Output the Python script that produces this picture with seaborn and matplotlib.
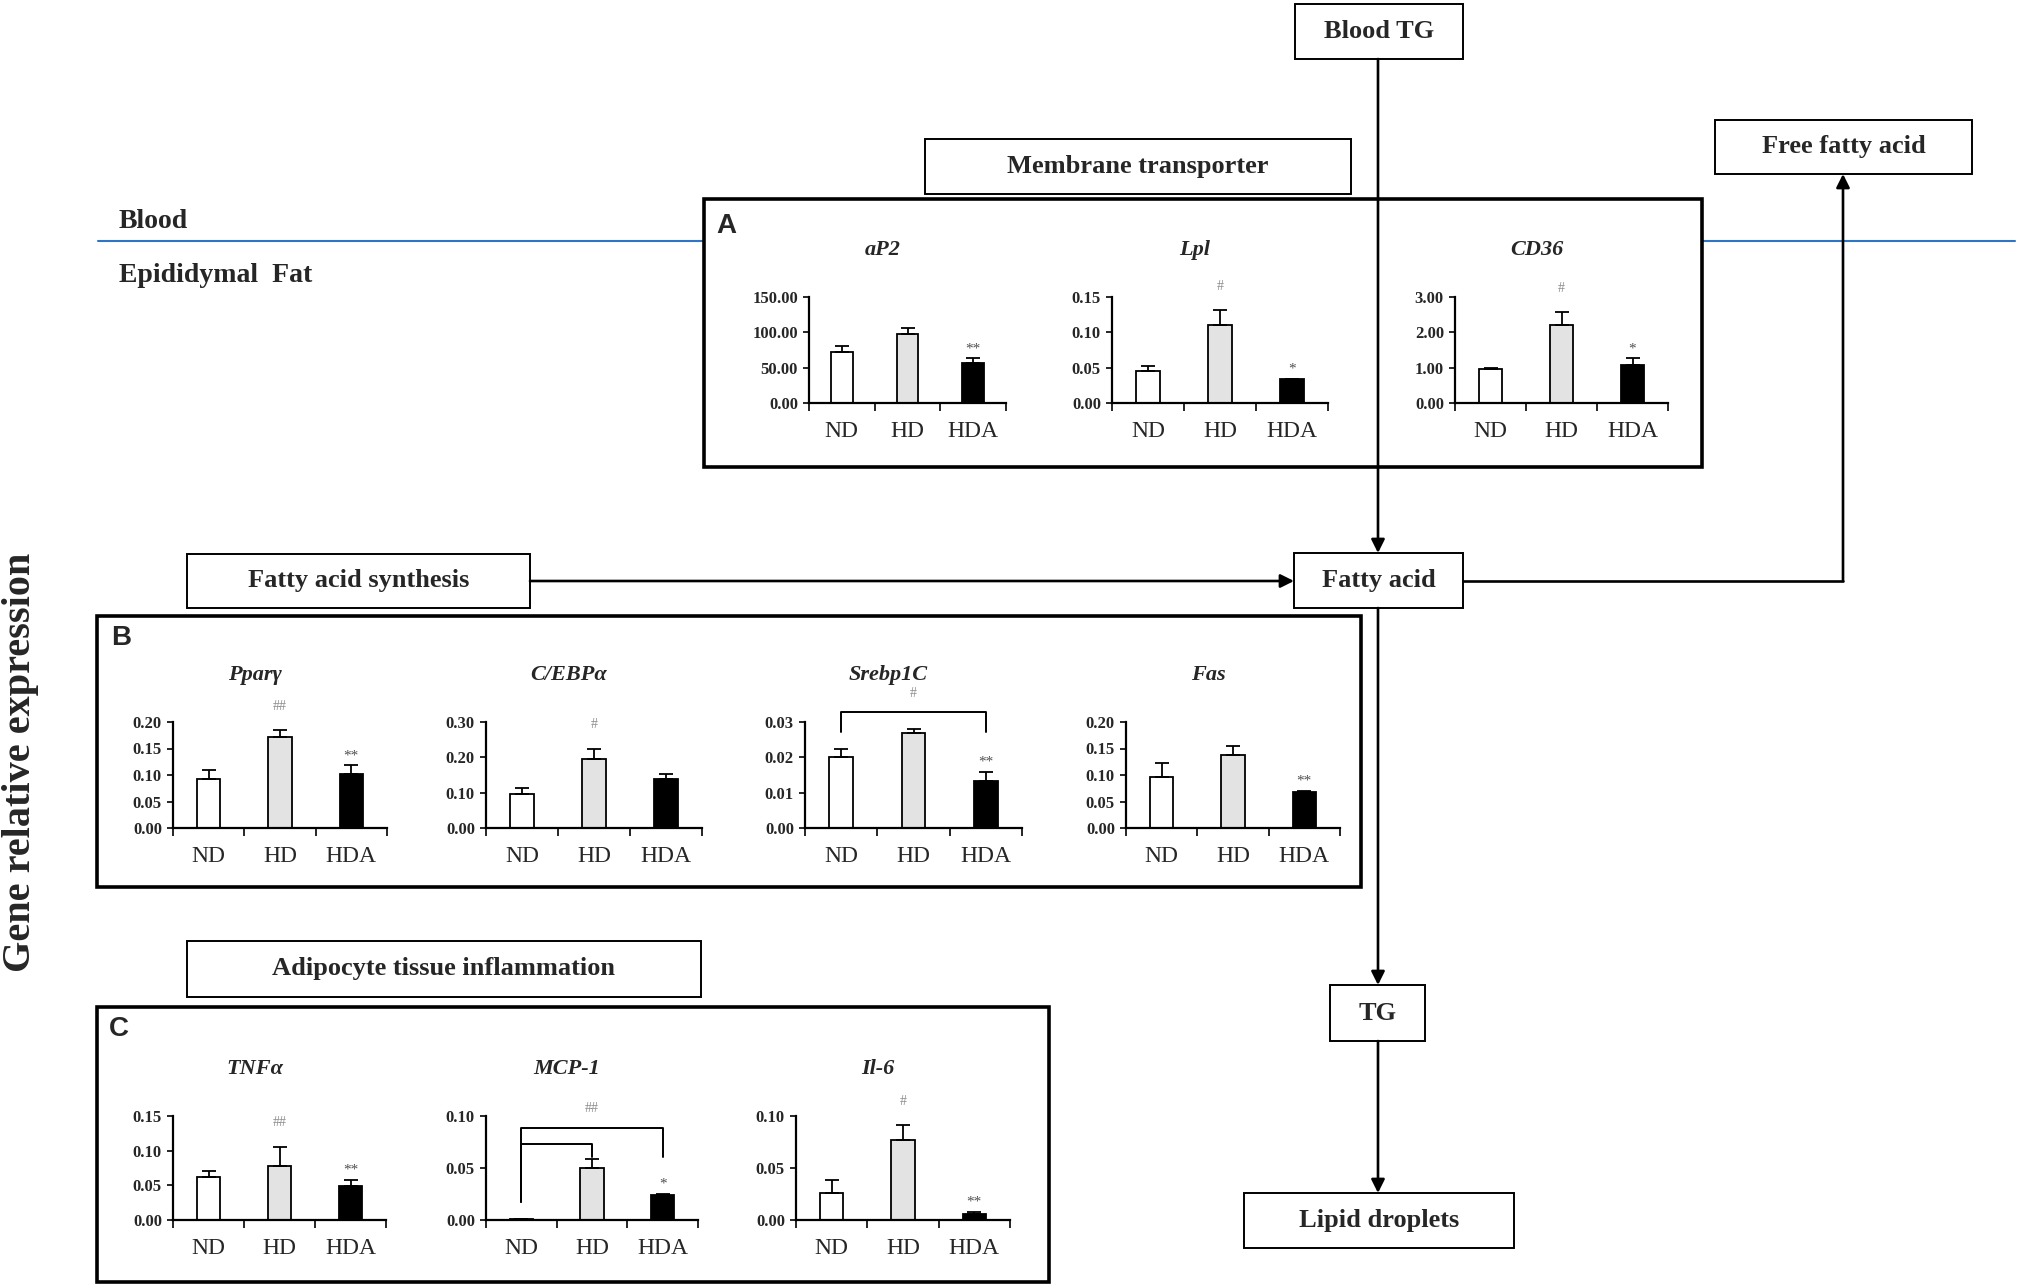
import numpy as np
import pandas as pd
import matplotlib
matplotlib.use('Agg')
import matplotlib.pyplot as plt
import seaborn as sns
from matplotlib.patches import Rectangle
from matplotlib.ticker import FormatStrFormatter

W, H = 2025, 1287

groups = ['ND', 'HD', 'HDA']
bar_colors = ['white', '#e3e3e3', 'black']

# values: mean and upper error bar
ap2_mean = [72, 97, 57]
ap2_err = [8, 9, 6]
ap2_ticks = [0, 50, 100, 150]
ap2_sig = ['', '', '**']

lpl_mean = [0.045, 0.110, 0.034]
lpl_err = [0.008, 0.022, 0.0]
lpl_ticks = [0, 0.05, 0.10, 0.15]
lpl_sig = ['', '#', '*']

cd36_mean = [0.97, 2.20, 1.08]
cd36_err = [0.02, 0.38, 0.18]
cd36_ticks = [0, 1, 2, 3]
cd36_sig = ['', '#', '*']

ppar_mean = [0.092, 0.172, 0.101]
ppar_err = [0.018, 0.012, 0.017]
ppar_ticks = [0, 0.05, 0.10, 0.15, 0.20]
ppar_sig = ['', '##', '**']

cebp_mean = [0.095, 0.195, 0.140]
cebp_err = [0.018, 0.030, 0.012]
cebp_ticks = [0, 0.10, 0.20, 0.30]
cebp_sig = ['', '#', '']

srebp_mean = [0.0200, 0.0268, 0.0133]
srebp_err = [0.0025, 0.0012, 0.0025]
srebp_ticks = [0, 0.01, 0.02, 0.03]
srebp_sig = ['', '', '**']

fas_mean = [0.097, 0.138, 0.067]
fas_err = [0.025, 0.016, 0.003]
fas_ticks = [0, 0.05, 0.10, 0.15, 0.20]
fas_sig = ['', '', '**']

tnf_mean = [0.062, 0.078, 0.049]
tnf_err = [0.009, 0.028, 0.009]
tnf_ticks = [0, 0.05, 0.10, 0.15]
tnf_sig = ['', '##', '**']

mcp_mean = [0.001, 0.050, 0.024]
mcp_err = [0.0, 0.009, 0.001]
mcp_ticks = [0, 0.05, 0.10]
mcp_sig = ['', '', '*']

il6_mean = [0.026, 0.077, 0.006]
il6_err = [0.012, 0.014, 0.002]
il6_ticks = [0, 0.05, 0.10]
il6_sig = ['', '#', '**']

sns.set_style('ticks')
plt.rcParams['font.family'] = ['Liberation Serif', 'DejaVu Serif']

fig = plt.figure(figsize=(W / 100, H / 100), dpi=100)
bg = fig.add_axes([0, 0, 1, 1])
bg.set_xlim(0, W)
bg.set_ylim(H, 0)
bg.axis('off')


def box(x0, y0, x1, y1, lw=1.4):
    bg.add_patch(Rectangle((x0, y0), x1 - x0, y1 - y0, fill=False, lw=lw, ec='black', zorder=3))


def label_box(x0, y0, x1, y1, text):
    box(x0, y0, x1, y1)
    bg.text((x0 + x1) / 2, (y0 + y1) / 2, text, ha='center', va='center',
            fontsize=19, fontweight='bold')


def arrow(x0, y0, x1, y1):
    bg.annotate('', xy=(x1, y1), xytext=(x0, y0),
                arrowprops=dict(arrowstyle='-|>', color='black', lw=1.9,
                                mutation_scale=20, shrinkA=0, shrinkB=0))


def draw_chart(x0, y0, x1, y1, title, mean, err, ticks, sig, brackets=(), bracket_label=''):
    ax = fig.add_axes([x0 / W, 1 - y1 / H, (x1 - x0) / W, (y1 - y0) / H])
    ax.patch.set_alpha(0)
    df = pd.DataFrame({'group': groups, 'value': mean})
    sns.barplot(data=df, x='group', y='value', hue='group', palette=bar_colors,
                edgecolor='black', linewidth=1.3, width=0.33, legend=False, ax=ax)
    ax.errorbar(range(3), mean, yerr=[np.zeros(3), err], fmt='none', ecolor='black',
                elinewidth=1.3, capsize=5, capthick=1.3, clip_on=False)
    top = ticks[-1]
    ax.set_xlim(-0.5, 2.5)
    ax.set_ylim(0, top)
    ax.set_yticks(ticks)
    ax.yaxis.set_major_formatter(FormatStrFormatter('%.2f'))
    ax.set_xticks([-0.5, 0.5, 1.5, 2.5], minor=True)
    ax.tick_params(axis='x', which='major', length=0, pad=13, labelsize=17)
    ax.tick_params(axis='x', which='minor', length=6, width=1.4, direction='out')
    ax.tick_params(axis='y', length=4, width=1.4, pad=4, labelsize=12)
    for lab in ax.get_yticklabels():
        lab.set_fontweight('bold')
    ax.set_xlabel('')
    ax.set_ylabel('')
    sns.despine(ax=ax)
    for s in ['left', 'bottom']:
        ax.spines[s].set_linewidth(1.6)
        ax.spines[s].set_color('black')
    for i, s in enumerate(sig):
        if not s:
            continue
        y = mean[i] + err[i]
        if s.startswith('#'):
            ax.annotate(s, (i, y), xytext=(0, 17), textcoords='offset points', ha='center',
                        va='center', fontsize=10, color='#8c8c8c', annotation_clip=False)
        else:
            ax.annotate(s, (i, y), xytext=(0, 7), textcoords='offset points', ha='center',
                        va='center', fontsize=11, color='#505050', annotation_clip=False)
    for (i, j, lev, di, dj) in brackets:
        ax.plot([i, i, j, j], [di * top, lev * top, lev * top, dj * top], color='black',
                lw=1.4, clip_on=False)
    if bracket_label:
        lev = max(b[2] for b in brackets)
        i = min(b[0] for b in brackets)
        j = max(b[1] for b in brackets)
        ax.annotate(bracket_label, ((i + j) / 2, lev * top), xytext=(0, 14),
                    textcoords='offset points', ha='center', va='center', fontsize=10,
                    color='#8c8c8c', annotation_clip=False)
    bg.text((x0 + x1) / 2 - 25, y0 - 47, title, ha='center', va='center',
            fontsize=16, fontweight='bold', fontstyle='italic')
    return ax


# blood / fat boundary
bg.plot([98, 704], [241, 241], color='#2e75c6', lw=1.5)
bg.plot([1702, 2015], [241, 241], color='#2e75c6', lw=1.5)
bg.text(119, 221, 'Blood', ha='left', va='center', fontsize=20, fontweight='bold')
bg.text(119, 276, 'Epididymal  Fat', ha='left', va='center', fontsize=20, fontweight='bold')
bg.text(21, 762, 'Gene relative expression', ha='center', va='center', rotation=90,
        fontsize=29, fontweight='bold')

# flow boxes
label_box(1295, 4, 1463, 59, 'Blood TG')
label_box(925, 139, 1351, 194, 'Membrane transporter')
label_box(1715, 120, 1972, 174, 'Free fatty acid')
label_box(187, 554, 530, 608, 'Fatty acid synthesis')
label_box(1294, 553, 1463, 608, 'Fatty acid')
label_box(187, 941, 701, 997, 'Adipocyte tissue inflammation')
label_box(1330, 985, 1425, 1041, 'TG')
label_box(1244, 1193, 1514, 1248, 'Lipid droplets')

# arrows
arrow(1378, 59, 1378, 553)
arrow(530, 581, 1294, 581)
bg.plot([1463, 1843], [581, 581], color='black', lw=1.9)
arrow(1843, 581, 1843, 174)
arrow(1378, 608, 1378, 985)
arrow(1378, 1041, 1378, 1193)

# panel frames
box(704, 199, 1702, 467, lw=2.6)
box(97, 616, 1361, 887, lw=2.6)
box(97, 1007, 1049, 1282, lw=2.6)
for lab, x, y in [('A', 726, 226), ('B', 121, 638), ('C', 119, 1029)]:
    bg.text(x, y, lab, ha='center', va='center', fontsize=20, fontweight='bold',
            family='Liberation Sans')

# panel A
draw_chart(809, 297, 1006, 403, 'aP2', ap2_mean, ap2_err, ap2_ticks, ap2_sig)
draw_chart(1112, 297, 1328, 403, 'Lpl', lpl_mean, lpl_err, lpl_ticks, lpl_sig)
draw_chart(1455, 297, 1668, 403, 'CD36', cd36_mean, cd36_err, cd36_ticks, cd36_sig)

# panel B
draw_chart(173, 722, 387, 828, 'Pparγ', ppar_mean, ppar_err, ppar_ticks, ppar_sig)
draw_chart(486, 722, 702, 828, 'C/EBPα', cebp_mean, cebp_err, cebp_ticks, cebp_sig)
draw_chart(805, 722, 1022, 828, 'Srebp1C', srebp_mean, srebp_err, srebp_ticks, srebp_sig,
           brackets=[(0, 2, 1.09, 0.91, 0.91)], bracket_label='#')
draw_chart(1126, 722, 1340, 828, 'Fas', fas_mean, fas_err, fas_ticks, fas_sig)

# panel C
draw_chart(173, 1116, 386, 1220, 'TNFα', tnf_mean, tnf_err, tnf_ticks, tnf_sig)
draw_chart(486, 1116, 698, 1220, 'MCP-1', mcp_mean, mcp_err, mcp_ticks, mcp_sig,
           brackets=[(0, 2, 0.885, 0.17, 0.61), (0, 1, 0.73, 0.17, 0.61)], bracket_label='##')
draw_chart(796, 1116, 1010, 1220, 'Il-6', il6_mean, il6_err, il6_ticks, il6_sig)

fig.savefig('out.png', dpi=100, facecolor='white')
